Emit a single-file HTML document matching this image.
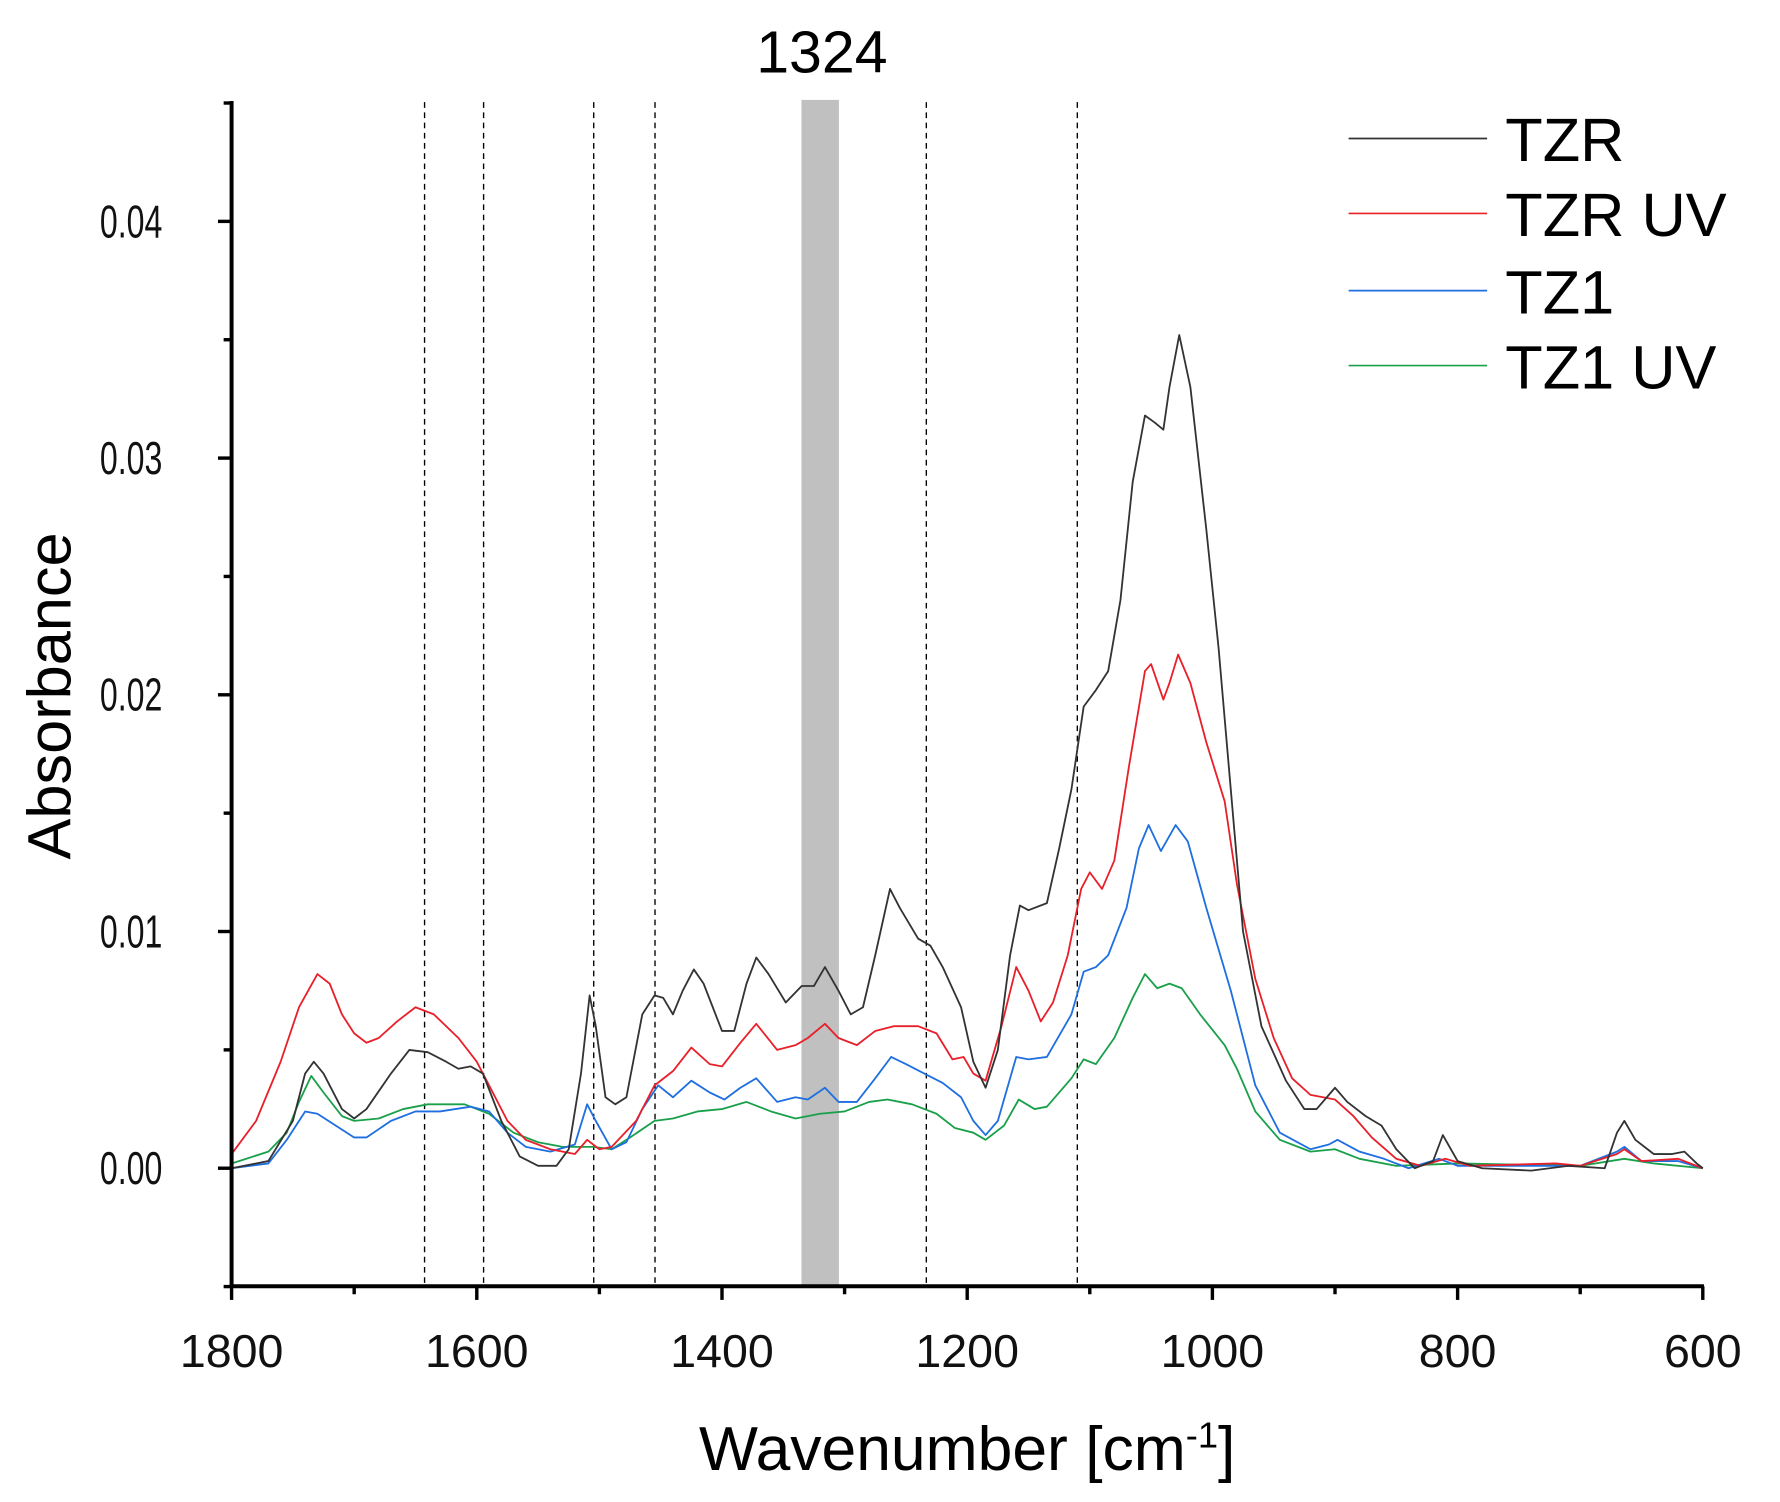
<!DOCTYPE html>
<html><head><meta charset="utf-8"><style>
html,body{margin:0;padding:0;background:#fff;}
svg{display:block;}
text{font-family:"Liberation Sans",Arial,sans-serif;}
</style></head><body>
<svg id="s" width="1780" height="1502" viewBox="0 0 1568 1323" preserveAspectRatio="none" xmlns="http://www.w3.org/2000/svg">
<rect x="706" y="88" width="33" height="1045" fill="#c0c0c0"/>
<g stroke="#000" stroke-width="1.2" stroke-dasharray="5,4">
<line x1="374" y1="90" x2="374" y2="1133"/><line x1="426" y1="90" x2="426" y2="1133"/>
<line x1="523" y1="90" x2="523" y2="1133"/><line x1="577" y1="90" x2="577" y2="1133"/>
<line x1="816" y1="90" x2="816" y2="1133"/><line x1="949" y1="90" x2="949" y2="1133"/>
</g>
<text x="724" y="64" font-size="52" text-anchor="middle">1324</text>
<g id="curves" fill="none" stroke-width="1.6" stroke-linejoin="round"></g>
<g stroke="#000" stroke-width="3.5" fill="none">
<polyline points="204,89 204,1133 1501,1133"/>
</g>
<g id="ticks" stroke="#000" stroke-width="3"></g>
<g id="labels" font-size="41" fill="#111"></g>
<text x="852" y="1295" font-size="55" text-anchor="middle">Wavenumber [cm<tspan dy="-20" font-size="32">-1</tspan><tspan dy="20">]</tspan></text>
<text transform="translate(62,613) rotate(-90)" font-size="54" text-anchor="middle">Absorbance</text>
<g stroke-width="1.5">
<line x1="1188" y1="122" x2="1310" y2="122" stroke="#333"/>
<line x1="1188" y1="188" x2="1310" y2="188" stroke="#e8202a"/>
<line x1="1188" y1="256" x2="1310" y2="256" stroke="#1f6fe0"/>
<line x1="1188" y1="322" x2="1310" y2="322" stroke="#1aa04a"/>
</g>
<g font-size="54" fill="#000">
<text x="1326" y="142">TZR</text><text x="1326" y="208">TZR UV</text>
<text x="1326" y="276">TZ1</text><text x="1326" y="342">TZ1 UV</text>
</g>
</svg>
<script>
const NS="http://www.w3.org/2000/svg";
const X=w=>204+(1800-w)*1.08, Y=a=>1029-a*20850;
const data={
"#333":[1800,0,1770,0.0003,1750,0.002,1740,0.004,1733,0.0045,1725,0.004,1710,0.0025,1700,0.0021,1690,0.0025,1670,0.004,1655,0.005,1640,0.0049,1625,0.0045,1615,0.0042,1605,0.0043,1595,0.004,1580,0.002,1565,0.0005,1550,0.0001,1535,0.0001,1525,0.0008,1515,0.004,1508,0.0073,1503,0.006,1495,0.003,1487,0.0027,1478,0.003,1465,0.0065,1455,0.0073,1448,0.0072,1440,0.0065,1432,0.0075,1423,0.0084,1415,0.0078,1400,0.0058,1390,0.0058,1380,0.0078,1372,0.0089,1362,0.0082,1348,0.007,1335,0.0077,1325,0.0077,1316,0.0085,1305,0.0075,1295,0.0065,1285,0.0068,1275,0.009,1263,0.0118,1255,0.011,1240,0.0097,1230,0.0094,1220,0.0085,1205,0.0068,1195,0.0045,1185,0.0034,1175,0.005,1165,0.009,1157,0.0111,1150,0.0109,1135,0.0112,1125,0.0135,1115,0.016,1105,0.0195,1095,0.0202,1085,0.021,1075,0.024,1065,0.029,1055,0.0318,1047,0.0315,1040,0.0312,1035,0.033,1027,0.0352,1018,0.033,1005,0.027,995,0.022,985,0.016,975,0.01,960,0.006,940,0.0037,925,0.0025,915,0.0025,900,0.0034,890,0.0028,875,0.0022,862,0.0018,850,0.0008,835,0,820,0.0003,812,0.0014,800,0.0003,780,0,740,-0.0001,710,0.0001,680,0,670,0.0015,664,0.002,655,0.0012,640,0.0006,625,0.0006,615,0.0007,605,0.0002,600,0],
"#e8202a":[1800,0.0006,1780,0.002,1760,0.0045,1745,0.0068,1730,0.0082,1720,0.0078,1710,0.0065,1700,0.0057,1690,0.0053,1680,0.0055,1665,0.0062,1650,0.0068,1635,0.0065,1615,0.0055,1600,0.0045,1590,0.0035,1575,0.002,1560,0.0012,1540,0.0008,1520,0.0006,1510,0.0012,1500,0.0008,1490,0.0009,1470,0.002,1455,0.0035,1440,0.0041,1425,0.0051,1410,0.0044,1400,0.0043,1385,0.0053,1372,0.0061,1355,0.005,1340,0.0052,1330,0.0055,1316,0.0061,1305,0.0055,1290,0.0052,1275,0.0058,1260,0.006,1240,0.006,1225,0.0057,1212,0.0046,1203,0.0047,1195,0.004,1185,0.0037,1172,0.006,1160,0.0085,1150,0.0075,1140,0.0062,1130,0.007,1118,0.009,1107,0.0118,1100,0.0125,1090,0.0118,1080,0.013,1068,0.017,1055,0.021,1050,0.0213,1040,0.0198,1035,0.0205,1028,0.0217,1018,0.0205,1005,0.018,990,0.0155,980,0.012,965,0.008,950,0.0055,935,0.0038,920,0.0031,900,0.0029,885,0.0022,870,0.0013,850,0.0004,830,0.0001,810,0.0004,790,0.0001,720,0.0002,700,0.0001,670,0.0006,664,0.0008,650,0.0003,620,0.0004,600,0],
"#1f6fe0":[1800,0,1770,0.0002,1755,0.0012,1740,0.0024,1730,0.0023,1715,0.0018,1700,0.0013,1690,0.0013,1670,0.002,1650,0.0024,1630,0.0024,1605,0.0026,1590,0.0024,1575,0.0015,1560,0.0009,1540,0.0007,1520,0.001,1510,0.0027,1503,0.002,1490,0.0008,1478,0.0011,1465,0.0025,1452,0.0035,1440,0.003,1425,0.0037,1410,0.0032,1398,0.0029,1385,0.0034,1372,0.0038,1355,0.0028,1340,0.003,1330,0.0029,1316,0.0034,1305,0.0028,1290,0.0028,1275,0.0038,1262,0.0047,1250,0.0044,1235,0.004,1220,0.0036,1205,0.003,1195,0.002,1185,0.0014,1175,0.002,1160,0.0047,1150,0.0046,1135,0.0047,1115,0.0065,1105,0.0083,1095,0.0085,1085,0.009,1070,0.011,1060,0.0135,1052,0.0145,1042,0.0134,1030,0.0145,1020,0.0138,1005,0.011,985,0.0075,965,0.0035,945,0.0015,920,0.0008,905,0.001,898,0.0012,880,0.0007,860,0.0004,840,0,815,0.0004,800,0.0001,700,0.0001,670,0.0007,664,0.0009,650,0.0003,620,0.0003,600,0],
"#1aa04a":[1800,0.0002,1770,0.0007,1755,0.0015,1745,0.0028,1735,0.0039,1725,0.0032,1710,0.0022,1700,0.002,1680,0.0021,1660,0.0025,1640,0.0027,1610,0.0027,1590,0.0023,1570,0.0015,1550,0.0011,1530,0.0009,1515,0.0009,1505,0.0009,1490,0.0008,1475,0.0013,1455,0.002,1440,0.0021,1420,0.0024,1400,0.0025,1380,0.0028,1360,0.0024,1340,0.0021,1320,0.0023,1300,0.0024,1280,0.0028,1265,0.0029,1245,0.0027,1225,0.0023,1210,0.0017,1195,0.0015,1185,0.0012,1170,0.0018,1158,0.0029,1145,0.0025,1135,0.0026,1115,0.0038,1105,0.0046,1095,0.0044,1080,0.0055,1065,0.0072,1055,0.0082,1045,0.0076,1035,0.0078,1025,0.0076,1010,0.0065,990,0.0052,980,0.0042,965,0.0024,945,0.0012,920,0.0007,900,0.0008,880,0.0004,850,0.0001,800,0.0002,700,0.0001,664,0.0004,640,0.0002,600,0]};
const cg=document.getElementById("curves");
for(const c of ["#1aa04a","#1f6fe0","#e8202a","#333"]){const d=data[c];let p=[];for(let i=0;i<d.length;i+=2)p.push(X(d[i]).toFixed(1)+","+Y(d[i+1]).toFixed(1));
const e=document.createElementNS(NS,"polyline");e.setAttribute("points",p.join(" "));e.setAttribute("stroke",c);cg.appendChild(e);}
const tg=document.getElementById("ticks"),lg=document.getElementById("labels");
function ln(a,b,c,d){const e=document.createElementNS(NS,"line");e.setAttribute("x1",a);e.setAttribute("y1",b);e.setAttribute("x2",c);e.setAttribute("y2",d);tg.appendChild(e);}
function tx(x,y,s,anc,tl){const e=document.createElementNS(NS,"text");e.setAttribute("x",x);e.setAttribute("y",y);e.setAttribute("text-anchor",anc);if(tl){e.setAttribute("textLength",tl);e.setAttribute("lengthAdjust","spacingAndGlyphs");}e.textContent=s;lg.appendChild(e);}
for(let w=1800;w>=600;w-=100){const x=X(w);if(w%200==0){ln(x,1133,x,1145);tx(x,1204,w,"middle");}else ln(x,1133,x,1140);}
for(let k=-1;k<=9;k++){const a=k*0.005,y=Y(a);if(k%2==0&&k>=0){ln(204,y,192,y);tx(88,y+14,a.toFixed(2),"start",55);}else ln(204,y,197,y);}
</script>
</body></html>
